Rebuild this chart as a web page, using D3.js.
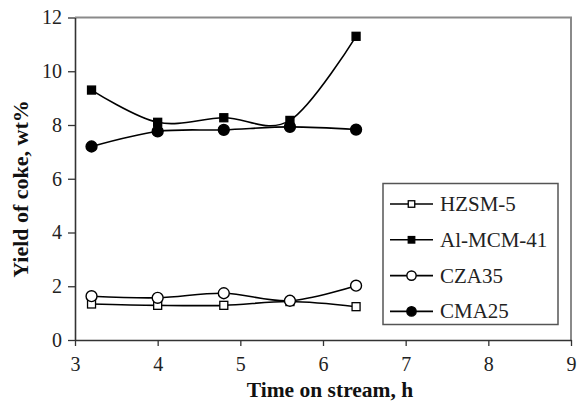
<!DOCTYPE html>
<html>
<head>
<meta charset="utf-8">
<script src="https://cdn.jsdelivr.net/npm/d3@7"></script>
<style>
  html, body { margin: 0; padding: 0; background: #fff; }
  svg { display: block; }
  svg text { font-family: "Liberation Serif", "Times New Roman", Times, serif; }
</style>
</head>
<body>
<svg id="chart" width="577" height="401"></svg>
<script>
// ── Data ─────────────────────────────────────────────────────────────
var times   = [3.2, 4.0, 4.8, 5.6, 6.4];
var hzsm5   = [1.34, 1.29, 1.29, 1.43, 1.24];
var alMcm41 = [9.3, 8.1, 8.27, 8.17, 11.3];
var cza35   = [1.63, 1.57, 1.74, 1.46, 2.02];
var cma25   = [7.2, 7.76, 7.82, 7.93, 7.83];

var seriesNames = ["HZSM-5", "Al-MCM-41", "CZA35", "CMA25"];
var xTicks = [3, 4, 5, 6, 7, 8, 9];
var yTicks = [0, 2, 4, 6, 8, 10, 12];

var series = [
  { name: seriesNames[0], values: hzsm5,   shape: "square", filled: false },
  { name: seriesNames[1], values: alMcm41, shape: "square", filled: true },
  { name: seriesNames[2], values: cza35,   shape: "circle", filled: false },
  { name: seriesNames[3], values: cma25,   shape: "circle", filled: true }
];

var FONT = "'Liberation Serif', 'Times New Roman', Times, serif";

// ── Layout ───────────────────────────────────────────────────────────
var LEFT = 75, RIGHT = 571, TOP = 17.5, BOTTOM = 340;
var svg = d3.select("#chart");

var x = d3.scaleLinear().domain([3, 9]).range([LEFT, RIGHT]);
var y = d3.scaleLinear().domain([0, 12]).range([BOTTOM, TOP]);

// top/right frame (grey)
svg.append("path")
  .attr("d", "M" + LEFT + "," + TOP + "H" + RIGHT + "V" + BOTTOM)
  .attr("fill", "none")
  .attr("stroke", "#8a8a8a")
  .attr("stroke-width", 2);

// ── Axes ─────────────────────────────────────────────────────────────
var xAxis = svg.append("g")
  .attr("transform", "translate(0," + BOTTOM + ")")
  .call(d3.axisBottom(x).tickValues(xTicks).tickFormat(d3.format("d"))
    .tickSize(6).tickPadding(6).tickSizeOuter(0));

var yAxis = svg.append("g")
  .attr("transform", "translate(" + LEFT + ",0)")
  .call(d3.axisLeft(y).tickValues(yTicks).tickFormat(d3.format("d"))
    .tickSize(7).tickPadding(6).tickSizeOuter(0));

[xAxis, yAxis].forEach(function (g) {
  g.attr("font-family", FONT).attr("font-size", 20);
  g.select(".domain").attr("stroke", "#333").attr("stroke-width", 1.6);
  g.selectAll(".tick line").attr("stroke", "#333").attr("stroke-width", 1.3);
  g.selectAll(".tick text").attr("fill", "#222");
});
xAxis.selectAll(".tick text").attr("dy", "0.95em");

// axis titles
svg.append("text")
  .attr("x", 330)
  .attr("y", 397)
  .attr("text-anchor", "middle")
  .attr("font-family", FONT)
  .attr("font-weight", "bold")
  .attr("font-size", 21.5)
  .attr("fill", "#111")
  .text("Time on stream, h");

svg.append("text")
  .attr("transform", "translate(28,189) rotate(-90)")
  .attr("text-anchor", "middle")
  .attr("font-family", FONT)
  .attr("font-weight", "bold")
  .attr("font-size", 22)
  .attr("fill", "#111")
  .text("Yield of coke, wt%");

// ── Lines ────────────────────────────────────────────────────────────
var line = d3.line()
  .x(function (d, i) { return x(times[i]); })
  .y(function (d) { return y(d); })
  .curve(d3.curveCardinal.tension(0));

svg.selectAll(".series-line")
  .data(series)
  .enter()
  .append("path")
  .attr("class", "series-line")
  .attr("d", function (d) { return line(d.values); })
  .attr("fill", "none")
  .attr("stroke", "#000")
  .attr("stroke-width", 1.6);

function drawMarker(g, s, cx, cy, size) {
  if (s.shape === "square") {
    g.append("rect")
      .attr("x", cx - size / 2).attr("y", cy - size / 2)
      .attr("width", size).attr("height", size)
      .attr("fill", s.filled ? "#000" : "#fff")
      .attr("stroke", "#000").attr("stroke-width", 1.3);
  } else {
    g.append("circle")
      .attr("cx", cx).attr("cy", cy).attr("r", size * 0.62)
      .attr("fill", s.filled ? "#000" : "#fff")
      .attr("stroke", "#000").attr("stroke-width", 1.4);
  }
}

// ── Markers ──────────────────────────────────────────────────────────
var markers = svg.append("g");
series.forEach(function (s) {
  s.values.forEach(function (v, i) {
    drawMarker(markers, s, x(times[i]), y(v), s.shape === "square" ? 8 : 8.8);
  });
});

// ── Legend ───────────────────────────────────────────────────────────
var legend = svg.append("g");
legend.append("rect")
  .attr("x", 383).attr("y", 183.5)
  .attr("width", 175).attr("height", 141)
  .attr("fill", "#fff")
  .attr("stroke", "#555")
  .attr("stroke-width", 1.5);

series.forEach(function (s, i) {
  var cy = 204 + i * 35.8;
  legend.append("line")
    .attr("x1", 390).attr("x2", 433)
    .attr("y1", cy).attr("y2", cy)
    .attr("stroke", "#000").attr("stroke-width", 1.6);
  drawMarker(legend, s, 411.5, cy, s.shape === "square" ? 6.5 : 7.5);
  legend.append("text")
    .attr("x", 440).attr("y", cy + 7)
    .attr("font-family", FONT)
    .attr("font-size", 21)
    .attr("fill", "#222")
    .text(s.name);
});
</script>
</body>
</html>
